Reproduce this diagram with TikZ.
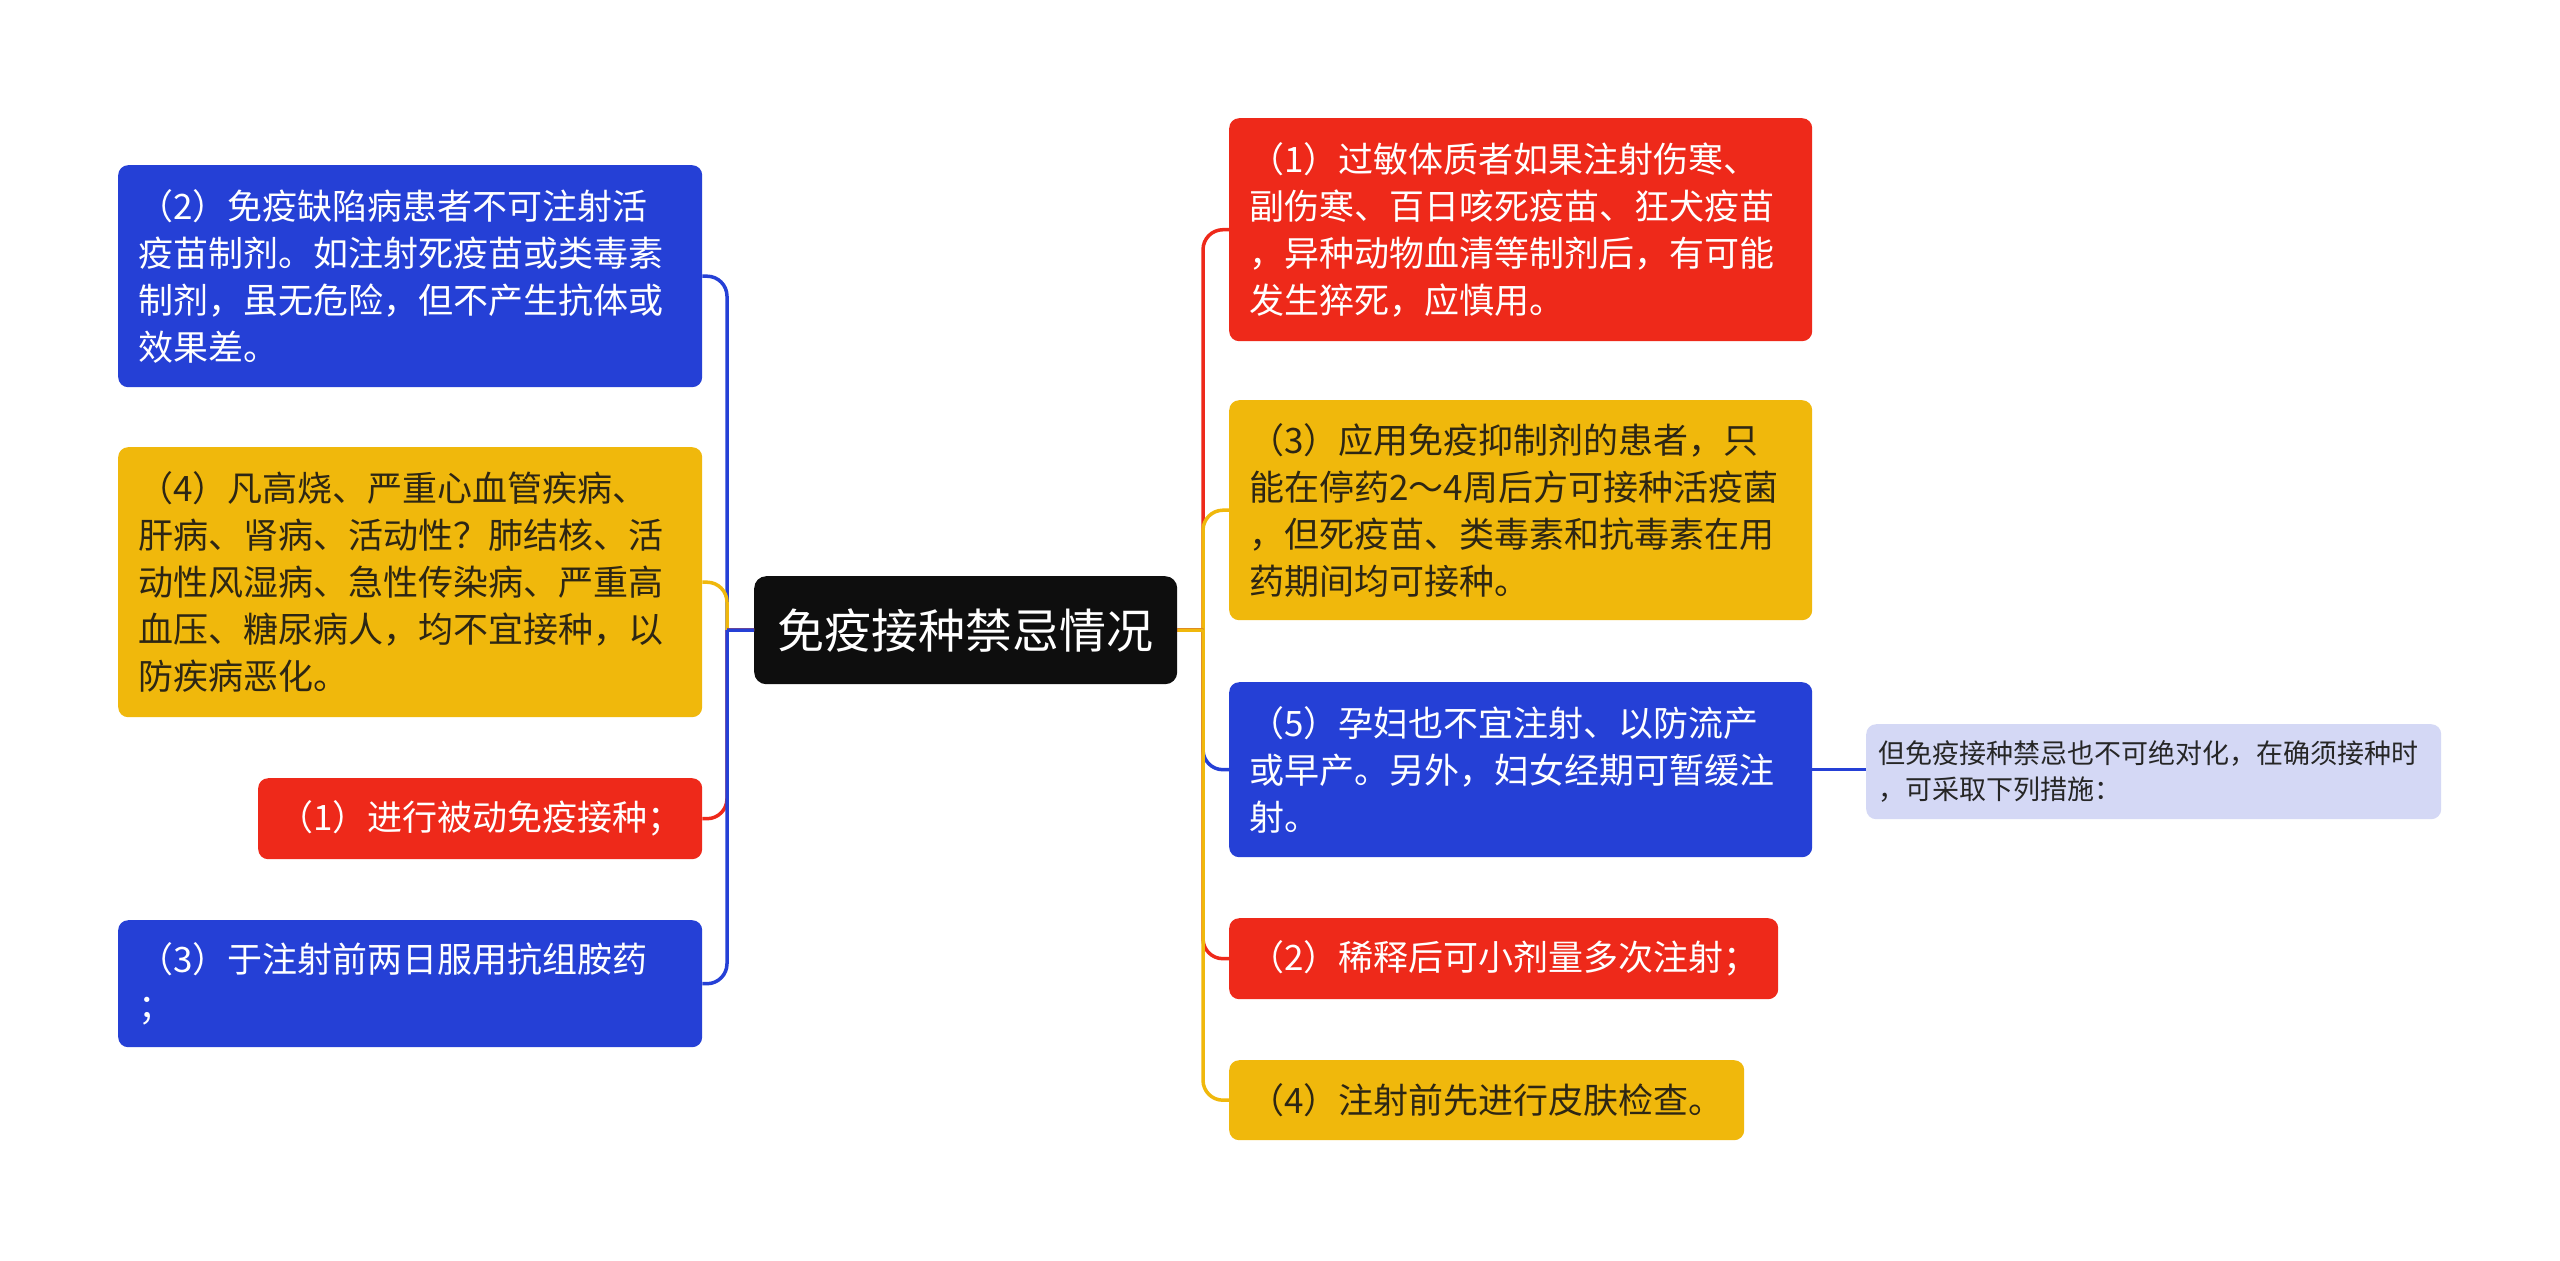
\documentclass[tikz,border=0pt]{standalone}
\usepackage{fontspec}
\setmainfont{Noto Sans CJK SC}
\definecolor{mblue}{RGB}{37,64,214}
\definecolor{mred}{RGB}{238,41,26}
\definecolor{myellow}{RGB}{240,184,12}
\definecolor{mblack}{RGB}{14,14,14}
\definecolor{mlav}{RGB}{212,216,245}
\definecolor{mdark}{RGB}{45,38,20}
\tikzset{
  box/.style={rounded corners=10pt, inner xsep=20pt, inner ysep=0pt, align=left,
    anchor=north west, font=\fontsize{35}{47}\selectfont},
  bluebox/.style={box, fill=mblue, text=white},
  redbox/.style={box, fill=mred, text=white},
  yelbox/.style={box, fill=myellow, text=mdark},
  conn/.style={line width=3.5pt, rounded corners=20pt}
}
\begin{document}
\begin{tikzpicture}[x=1pt,y=-1pt]
\useasboundingbox[fill=white] (0,0) rectangle (2560,1261);
% center
\node[fill=mblack, text=white, rounded corners=12pt, anchor=north west, inner sep=0pt,
  minimum width=423pt, minimum height=108pt, font=\fontsize{47}{56}\selectfont] (c) at (754,576) {免疫接种禁忌情况};
% left
\node[bluebox, text width=544pt, minimum height=222pt] (L1) at (118,165)
 {（2）免疫缺陷病患者不可注射活\\疫苗制剂。如注射死疫苗或类毒素\\制剂，虽无危险，但不产生抗体或\\效果差。};
\node[yelbox, text width=544pt, minimum height=270pt] (L2) at (118,447)
 {（4）凡高烧、严重心血管疾病、\\肝病、肾病、活动性？肺结核、活\\动性风湿病、急性传染病、严重高\\血压、糖尿病人，均不宜接种，以\\防疾病恶化。};
\node[redbox, text width=404pt, minimum height=81pt] (L3) at (258,778)
 {（1）进行被动免疫接种；};
\node[bluebox, text width=544pt, minimum height=127pt] (L4) at (118,920)
 {（3）于注射前两日服用抗组胺药\\；};
% right
\node[redbox, text width=543pt, minimum height=223pt] (R1) at (1229,118)
 {（1）过敏体质者如果注射伤寒、\\副伤寒、百日咳死疫苗、狂犬疫苗\\，异种动物血清等制剂后，有可能\\发生猝死，应慎用。};
\node[yelbox, text width=543pt, minimum height=220pt] (R2) at (1229,400)
 {（3）应用免疫抑制剂的患者，只\\能在停药2～4周后方可接种活疫菌\\，但死疫苗、类毒素和抗毒素在用\\药期间均可接种。};
\node[bluebox, text width=543pt, minimum height=175pt] (R3) at (1229,682)
 {（5）孕妇也不宜注射、以防流产\\或早产。另外，妇女经期可暂缓注\\射。};
\node[redbox, text width=509pt, minimum height=81pt] (R4) at (1229,918)
 {（2）稀释后可小剂量多次注射；};
\node[yelbox, text width=475pt, minimum height=80pt] (R5) at (1229,1060)
 {（4）注射前先进行皮肤检查。};
\node[box, fill=mlav, text=black!85, rounded corners=10pt, inner xsep=12pt,
  text width=551pt, minimum height=95pt, font=\fontsize{27}{36}\selectfont] (R6) at (1866,724)
 {但免疫接种禁忌也不可绝对化，在确须接种时\\，可采取下列措施：};
% trunk points
\coordinate (lt) at (727,630);
\coordinate (rt) at (1203,630);
% left connectors
\draw[conn, mblue] (c.west) -- (lt) (lt) |- (L1.east);
\draw[conn, myellow] (c.west) -- (lt) (lt) |- (L2.east);
\draw[conn, mred] (c.west) -- (lt) (lt) |- (L3.east);
\draw[conn, mblue] (c.west) -- (lt) (lt) |- (L4.east);
% right connectors
\draw[conn, mred] (c.east) -- (rt) (rt) |- (R1.west);
\draw[conn, myellow] (c.east) -- (rt) (rt) |- (R2.west);
\draw[conn, mblue] (c.east) -- (rt) (rt) |- (R3.west);
\draw[conn, mred] (c.east) -- (rt) (rt) |- (R4.west);
\draw[conn, myellow] (c.east) -- (rt) (rt) |- (R5.west);
\draw[line width=3.5pt, mblue] (R3.east) -- (R6.west |- R3.east);
\end{tikzpicture}
\end{document}
